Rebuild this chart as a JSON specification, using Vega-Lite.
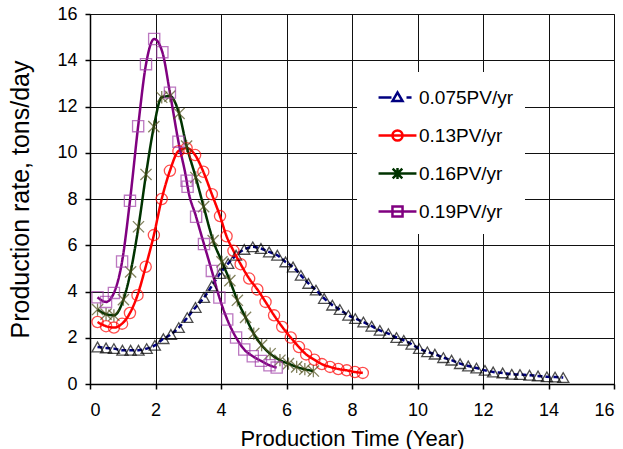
{
  "$schema": "https://vega.github.io/schema/vega-lite/v6.json",
  "width": 524,
  "height": 370,
  "autosize": "none",
  "padding": {"left": 90, "top": 14, "right": 9, "bottom": 65},
  "background": "white",
  "config": {
    "view": {"stroke": "#555", "strokeWidth": 1},
    "font": "Liberation Sans",
    "axis": {
      "labelFont": "Liberation Sans", "labelFontSize": 18, "labelColor": "#000",
      "titleFont": "Liberation Sans", "titleFontWeight": "normal", "titleColor": "#000",
      "domainColor": "#000", "domainWidth": 1.5, "tickColor": "#000", "tickSize": 5, "tickWidth": 1.5,
      "gridColor": "#111", "gridOpacity": 1, "gridWidth": 1
    }
  },
  "data": {"values": [
    {"series": "0.075PV/yr", "year": 0.23, "rate": 1.6},
    {"series": "0.075PV/yr", "year": 0.49, "rate": 1.56},
    {"series": "0.075PV/yr", "year": 0.73, "rate": 1.53},
    {"series": "0.075PV/yr", "year": 0.99, "rate": 1.46},
    {"series": "0.075PV/yr", "year": 1.24, "rate": 1.46},
    {"series": "0.075PV/yr", "year": 1.48, "rate": 1.46},
    {"series": "0.075PV/yr", "year": 1.73, "rate": 1.53},
    {"series": "0.075PV/yr", "year": 1.98, "rate": 1.67},
    {"series": "0.075PV/yr", "year": 2.24, "rate": 1.96},
    {"series": "0.075PV/yr", "year": 2.47, "rate": 2.14},
    {"series": "0.075PV/yr", "year": 2.71, "rate": 2.44},
    {"series": "0.075PV/yr", "year": 2.97, "rate": 2.87},
    {"series": "0.075PV/yr", "year": 3.22, "rate": 3.31},
    {"series": "0.075PV/yr", "year": 3.48, "rate": 3.74},
    {"series": "0.075PV/yr", "year": 3.72, "rate": 4.24},
    {"series": "0.075PV/yr", "year": 3.97, "rate": 4.78},
    {"series": "0.075PV/yr", "year": 4.22, "rate": 5.21},
    {"series": "0.075PV/yr", "year": 4.46, "rate": 5.57},
    {"series": "0.075PV/yr", "year": 4.71, "rate": 5.82},
    {"series": "0.075PV/yr", "year": 4.97, "rate": 5.93},
    {"series": "0.075PV/yr", "year": 5.22, "rate": 5.86},
    {"series": "0.075PV/yr", "year": 5.47, "rate": 5.71},
    {"series": "0.075PV/yr", "year": 5.72, "rate": 5.57},
    {"series": "0.075PV/yr", "year": 5.97, "rate": 5.28},
    {"series": "0.075PV/yr", "year": 6.2, "rate": 5.06},
    {"series": "0.075PV/yr", "year": 6.44, "rate": 4.7},
    {"series": "0.075PV/yr", "year": 6.67, "rate": 4.35},
    {"series": "0.075PV/yr", "year": 6.9, "rate": 4.06},
    {"series": "0.075PV/yr", "year": 7.15, "rate": 3.7},
    {"series": "0.075PV/yr", "year": 7.4, "rate": 3.41},
    {"series": "0.075PV/yr", "year": 7.63, "rate": 3.22},
    {"series": "0.075PV/yr", "year": 7.89, "rate": 2.97},
    {"series": "0.075PV/yr", "year": 8.1, "rate": 2.83},
    {"series": "0.075PV/yr", "year": 8.35, "rate": 2.68},
    {"series": "0.075PV/yr", "year": 8.6, "rate": 2.5},
    {"series": "0.075PV/yr", "year": 8.85, "rate": 2.32},
    {"series": "0.075PV/yr", "year": 9.11, "rate": 2.18},
    {"series": "0.075PV/yr", "year": 9.36, "rate": 2.01},
    {"series": "0.075PV/yr", "year": 9.58, "rate": 1.89},
    {"series": "0.075PV/yr", "year": 9.82, "rate": 1.72},
    {"series": "0.075PV/yr", "year": 10.05, "rate": 1.53},
    {"series": "0.075PV/yr", "year": 10.3, "rate": 1.39},
    {"series": "0.075PV/yr", "year": 10.53, "rate": 1.29},
    {"series": "0.075PV/yr", "year": 10.79, "rate": 1.14},
    {"series": "0.075PV/yr", "year": 11.04, "rate": 1.03},
    {"series": "0.075PV/yr", "year": 11.3, "rate": 0.88},
    {"series": "0.075PV/yr", "year": 11.55, "rate": 0.78},
    {"series": "0.075PV/yr", "year": 11.8, "rate": 0.69},
    {"series": "0.075PV/yr", "year": 12.06, "rate": 0.59},
    {"series": "0.075PV/yr", "year": 12.31, "rate": 0.52},
    {"series": "0.075PV/yr", "year": 12.6, "rate": 0.48},
    {"series": "0.075PV/yr", "year": 12.88, "rate": 0.42},
    {"series": "0.075PV/yr", "year": 13.13, "rate": 0.41},
    {"series": "0.075PV/yr", "year": 13.42, "rate": 0.38},
    {"series": "0.075PV/yr", "year": 13.68, "rate": 0.35},
    {"series": "0.075PV/yr", "year": 13.95, "rate": 0.31},
    {"series": "0.075PV/yr", "year": 14.2, "rate": 0.3},
    {"series": "0.075PV/yr", "year": 14.45, "rate": 0.28},

    {"series": "0.13PV/yr", "year": 0.23, "rate": 2.68},
    {"series": "0.13PV/yr", "year": 0.49, "rate": 2.5},
    {"series": "0.13PV/yr", "year": 0.73, "rate": 2.44},
    {"series": "0.13PV/yr", "year": 0.98, "rate": 2.61},
    {"series": "0.13PV/yr", "year": 1.22, "rate": 3.07},
    {"series": "0.13PV/yr", "year": 1.45, "rate": 3.84},
    {"series": "0.13PV/yr", "year": 1.7, "rate": 5.07},
    {"series": "0.13PV/yr", "year": 1.95, "rate": 6.44},
    {"series": "0.13PV/yr", "year": 2.19, "rate": 8.0},
    {"series": "0.13PV/yr", "year": 2.44, "rate": 9.22},
    {"series": "0.13PV/yr", "year": 2.7, "rate": 10.07},
    {"series": "0.13PV/yr", "year": 2.95, "rate": 10.2},
    {"series": "0.13PV/yr", "year": 3.21, "rate": 9.9},
    {"series": "0.13PV/yr", "year": 3.46, "rate": 9.18},
    {"series": "0.13PV/yr", "year": 3.72, "rate": 8.21},
    {"series": "0.13PV/yr", "year": 3.97, "rate": 7.26},
    {"series": "0.13PV/yr", "year": 4.17, "rate": 6.39},
    {"series": "0.13PV/yr", "year": 4.38, "rate": 5.76},
    {"series": "0.13PV/yr", "year": 4.6, "rate": 5.18},
    {"series": "0.13PV/yr", "year": 4.86, "rate": 4.56},
    {"series": "0.13PV/yr", "year": 5.11, "rate": 4.09},
    {"series": "0.13PV/yr", "year": 5.36, "rate": 3.55},
    {"series": "0.13PV/yr", "year": 5.62, "rate": 2.97},
    {"series": "0.13PV/yr", "year": 5.87, "rate": 2.47},
    {"series": "0.13PV/yr", "year": 6.13, "rate": 2.01},
    {"series": "0.13PV/yr", "year": 6.38, "rate": 1.6},
    {"series": "0.13PV/yr", "year": 6.6, "rate": 1.28},
    {"series": "0.13PV/yr", "year": 6.85, "rate": 1.05},
    {"series": "0.13PV/yr", "year": 7.08, "rate": 0.86},
    {"series": "0.13PV/yr", "year": 7.33, "rate": 0.74},
    {"series": "0.13PV/yr", "year": 7.58, "rate": 0.65},
    {"series": "0.13PV/yr", "year": 7.84, "rate": 0.59},
    {"series": "0.13PV/yr", "year": 8.09, "rate": 0.52},
    {"series": "0.13PV/yr", "year": 8.33, "rate": 0.48},

    {"series": "0.16PV/yr", "year": 0.23, "rate": 3.22},
    {"series": "0.16PV/yr", "year": 0.49, "rate": 3.02},
    {"series": "0.16PV/yr", "year": 0.73, "rate": 2.97},
    {"series": "0.16PV/yr", "year": 1.02, "rate": 3.65},
    {"series": "0.16PV/yr", "year": 1.24, "rate": 4.85},
    {"series": "0.16PV/yr", "year": 1.48, "rate": 6.8},
    {"series": "0.16PV/yr", "year": 1.71, "rate": 9.06},
    {"series": "0.16PV/yr", "year": 1.95, "rate": 11.13},
    {"series": "0.16PV/yr", "year": 2.19, "rate": 12.4},
    {"series": "0.16PV/yr", "year": 2.44, "rate": 12.45},
    {"series": "0.16PV/yr", "year": 2.72, "rate": 11.7},
    {"series": "0.16PV/yr", "year": 2.95, "rate": 10.29},
    {"series": "0.16PV/yr", "year": 3.23, "rate": 8.93},
    {"series": "0.16PV/yr", "year": 3.47, "rate": 7.67},
    {"series": "0.16PV/yr", "year": 3.76, "rate": 6.2},
    {"series": "0.16PV/yr", "year": 4.03, "rate": 5.28},
    {"series": "0.16PV/yr", "year": 4.27, "rate": 4.47},
    {"series": "0.16PV/yr", "year": 4.5, "rate": 3.62},
    {"series": "0.16PV/yr", "year": 4.75, "rate": 2.88},
    {"series": "0.16PV/yr", "year": 5.0, "rate": 2.18},
    {"series": "0.16PV/yr", "year": 5.24, "rate": 1.68},
    {"series": "0.16PV/yr", "year": 5.5, "rate": 1.31},
    {"series": "0.16PV/yr", "year": 5.8, "rate": 1.03},
    {"series": "0.16PV/yr", "year": 6.06, "rate": 0.88},
    {"series": "0.16PV/yr", "year": 6.31, "rate": 0.74},
    {"series": "0.16PV/yr", "year": 6.56, "rate": 0.64},
    {"series": "0.16PV/yr", "year": 6.82, "rate": 0.56},

    {"series": "0.19PV/yr", "year": 0.23, "rate": 3.75},
    {"series": "0.19PV/yr", "year": 0.49, "rate": 3.55},
    {"series": "0.19PV/yr", "year": 0.73, "rate": 3.94},
    {"series": "0.19PV/yr", "year": 0.98, "rate": 5.3},
    {"series": "0.19PV/yr", "year": 1.22, "rate": 7.92},
    {"series": "0.19PV/yr", "year": 1.47, "rate": 11.15},
    {"series": "0.19PV/yr", "year": 1.71, "rate": 13.83},
    {"series": "0.19PV/yr", "year": 1.96, "rate": 14.92},
    {"series": "0.19PV/yr", "year": 2.21, "rate": 14.35},
    {"series": "0.19PV/yr", "year": 2.44, "rate": 12.6},
    {"series": "0.19PV/yr", "year": 2.7, "rate": 10.48},
    {"series": "0.19PV/yr", "year": 2.95, "rate": 8.79},
    {"series": "0.19PV/yr", "year": 2.98, "rate": 8.53},
    {"series": "0.19PV/yr", "year": 3.24, "rate": 7.23},
    {"series": "0.19PV/yr", "year": 3.48, "rate": 6.05},
    {"series": "0.19PV/yr", "year": 3.72, "rate": 4.89},
    {"series": "0.19PV/yr", "year": 3.95, "rate": 3.74},
    {"series": "0.19PV/yr", "year": 4.19, "rate": 2.79},
    {"series": "0.19PV/yr", "year": 4.46, "rate": 2.01},
    {"series": "0.19PV/yr", "year": 4.71, "rate": 1.49},
    {"series": "0.19PV/yr", "year": 4.97, "rate": 1.2},
    {"series": "0.19PV/yr", "year": 5.22, "rate": 1.0},
    {"series": "0.19PV/yr", "year": 5.48, "rate": 0.81},
    {"series": "0.19PV/yr", "year": 5.7, "rate": 0.71}
  ]},
  "encoding": {
    "x": {
      "field": "year", "type": "quantitative",
      "scale": {"domain": [0, 16], "nice": false},
      "axis": {
        "values": [0, 2, 4, 6, 8, 10, 12, 14, 16],
        "title": "Production Time (Year)", "titleFontSize": 22,
        "titleBaseline": "alphabetic", "titleY": 61,
        "labelPadding": 12, "grid": true
      }
    },
    "y": {
      "field": "rate", "type": "quantitative",
      "scale": {"domain": [0, 16], "nice": false},
      "axis": {
        "values": [0, 2, 4, 6, 8, 10, 12, 14, 16],
        "title": "Production rate, tons/day", "titleFontSize": 25,
        "titleBaseline": "alphabetic", "titleX": -62, "titleAngle": -90,
        "labelPadding": 8, "grid": true
      }
    }
  },
  "layer": [
    {
      "mark": {"type": "line", "interpolate": "monotone", "strokeWidth": 2.5},
      "encoding": {
        "color": {
          "field": "series", "type": "nominal",
          "scale": {
            "domain": ["0.075PV/yr", "0.13PV/yr", "0.16PV/yr", "0.19PV/yr"],
            "range": ["#000080", "#ff0000", "#003300", "#800080"]
          },
          "legend": {
            "title": null, "orient": "none", "legendX": 267, "legendY": 58,
            "fillColor": "white", "padding": 12,
            "symbolSize": 576, "symbolOffset": 15, "labelOffset": 8, "rowPadding": 14,
            "labelFont": "Liberation Sans", "labelFontSize": 19, "labelColor": "#000",
            "symbolStrokeWidth": 2.5, "symbolFillColor": "white",
            "encode": {
              "symbols": {
                "update": {
                  "shape": {"signal": "datum.value == '0.075PV/yr' ? 'M-1.58,0L-0.5,0M-0.42,0.3L0,-0.42L0.42,0.3ZM0.75,0L1.17,0' : datum.value == '0.13PV/yr' ? 'M-1.58,0L1.58,0M0.42,0A0.42,0.42,0,1,1,-0.42,0A0.42,0.42,0,1,1,0.42,0' : datum.value == '0.16PV/yr' ? 'M-1.58,0L1.58,0M-0.4,-0.4L0.4,0.4M-0.4,0.4L0.4,-0.4M0,-0.45L0,0.45' : 'M-1.58,0L1.58,0M-0.42,-0.42L0.42,-0.42L0.42,0.42L-0.42,0.42Z'"},
                  "fill": {"value": "white"},
                  "stroke": {"scale": "color", "field": "value"},
                  "strokeWidth": {"value": 2.5}
                }
              }
            }
          }
        },
        "strokeDash": {
          "field": "series", "type": "nominal",
          "scale": {"range": [[5, 3], [1, 0], [1, 0], [1, 0]]},
          "legend": null
        }
      }
    },
    {
      "mark": {"type": "point", "filled": false, "size": 125, "strokeWidth": 1.3},
      "encoding": {
        "shape": {
          "field": "series", "type": "nominal",
          "scale": {"range": ["triangle-up", "circle", "M-1,-1L1,1M-1,1L1,-1M0,-1.1L0,1.1", "square"]},
          "legend": null
        },
        "stroke": {
          "field": "series", "type": "nominal",
          "scale": {"range": ["#000000", "#ff0000", "#4d4d19", "#a040a8"]},
          "legend": null
        }
      }
    }
  ]
}
